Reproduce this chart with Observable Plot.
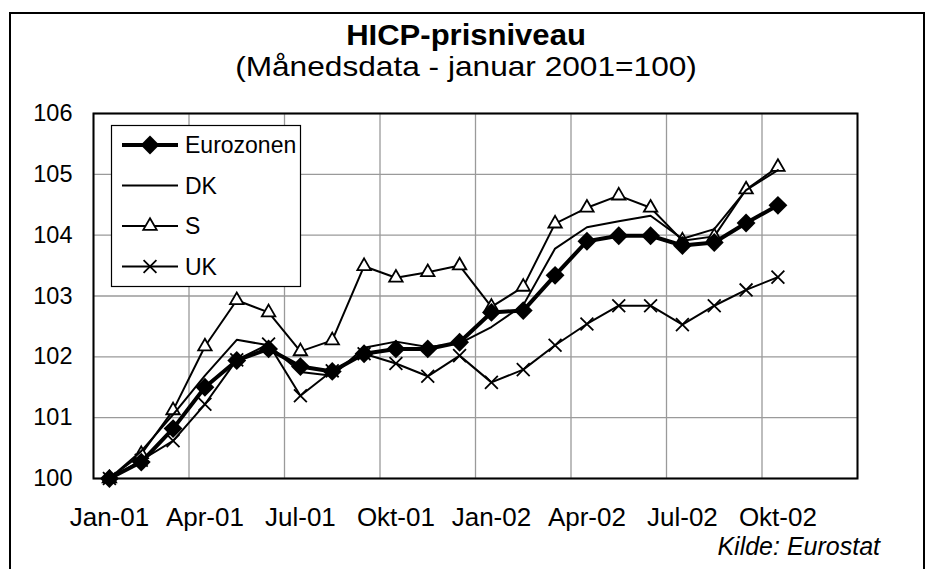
<!DOCTYPE html>
<html>
<head>
<meta charset="utf-8">
<script src="https://cdn.jsdelivr.net/npm/d3@7"></script>
<script src="https://cdn.jsdelivr.net/npm/@observablehq/plot@0.6"></script>
<style>
  html, body { margin: 0; padding: 0; background: #fff; overflow: hidden; width: 930px; height: 569px; }
  body { position: relative; font-family: "Liberation Sans", Arial, sans-serif; color: #000; }
  #border { position: absolute; left: 9px; top: 12px; width: 916px; height: 700px; box-sizing: border-box; border: 2px solid #000; border-bottom: none; }
  .t { position: absolute; left: 0; width: 932px; text-align: center; white-space: nowrap; line-height: 1; }
  #title { top: 21px; font-size: 29px; font-weight: bold; transform: scaleX(1.07); }
  #subtitle { top: 53px; font-size: 28px; transform: scaleX(1.13); }
  #chart { position: absolute; left: 0; top: 100px; }
  #legend { position: absolute; left: 111px; top: 125px; }
  #caption { position: absolute; right: 50px; top: 534px; font-size: 25px; font-style: italic; line-height: 1; white-space: nowrap; }
</style>
</head>
<body>
<div id="border"></div>
<div id="title" class="t">HICP-prisniveau</div>
<div id="subtitle" class="t">(Månedsdata - januar 2001=100)</div>
<div id="chart"></div>
<div id="legend"></div>
<div id="caption">Kilde: Eurostat</div>
<script>
// ---- data ----
const months = ["Jan-01","Feb-01","Mar-01","Apr-01","Maj-01","Jun-01","Jul-01","Aug-01","Sep-01","Okt-01","Nov-01","Dec-01",
                "Jan-02","Feb-02","Mar-02","Apr-02","Maj-02","Jun-02","Jul-02","Aug-02","Sep-02","Okt-02","Nov-02","Dec-02"];
const tickMonths = ["Jan-01","Apr-01","Jul-01","Okt-01","Jan-02","Apr-02","Jul-02","Okt-02"];
const yTicks = [100, 101, 102, 103, 104, 105, 106];
const seriesNames = ["Eurozonen", "DK", "S", "UK"];
const eurozonen = [100.00, 100.27, 100.82, 101.50, 101.94, 102.13, 101.84, 101.76, 102.05, 102.13, 102.13, 102.24,
                   102.73, 102.76, 103.34, 103.90, 103.99, 103.99, 103.83, 103.88, 104.20, 104.49];
const dk        = [100.00, 100.45, 101.05, 101.69, 102.28, 102.19, 101.75, 101.69, 102.15, 102.25, 102.16, 102.22,
                   102.49, 102.85, 103.78, 104.13, 104.23, 104.32, 103.94, 104.10, 104.74, 105.07];
const s         = [100.00, 100.40, 101.12, 102.17, 102.93, 102.73, 102.09, 102.27, 103.49, 103.30, 103.39, 103.50,
                   102.82, 103.15, 104.19, 104.45, 104.65, 104.45, 103.91, 103.98, 104.75, 105.12];
const uk        = [100.00, 100.30, 100.62, 101.22, 101.95, 102.21, 101.36, 101.77, 102.05, 101.89, 101.68, 102.02,
                   101.58, 101.79, 102.19, 102.54, 102.84, 102.84, 102.53, 102.84, 103.10, 103.31];

const toRows = arr => arr.map((v, i) => ({i, v, month: months[i]}));
const rowsEU = toRows(eurozonen), rowsDK = toRows(dk), rowsS = toRows(s), rowsUK = toRows(uk);
const tickIdx = tickMonths.map(m => months.indexOf(m));
const vGrid = tickIdx.map(i => i - 0.5).concat([months.length - 0.5]);

const chart = Plot.plot({
  width: 930,
  height: 469,
  marginLeft: 93,
  marginRight: 73,
  marginTop: 13,
  marginBottom: 91,
  style: { fontFamily: "'Liberation Sans', Arial, sans-serif", background: "transparent", overflow: "visible" },
  x: { domain: [-0.5, months.length - 0.5], label: null },
  y: { domain: [yTicks[0], yTicks[yTicks.length - 1]], label: null },
  marks: [
    Plot.ruleX(vGrid, { x: d => d, stroke: "#9a9a9a", strokeWidth: 1.3 }),
    Plot.ruleY(yTicks, { y: d => d, stroke: "#9a9a9a", strokeWidth: 1.3 }),
    Plot.axisY({ ticks: yTicks, tickSize: 0, tickPadding: 21, fontSize: 23.5, tickFormat: d => String(d), label: null }),
    Plot.axisX({ ticks: tickIdx, tickSize: 0, tickPadding: 29, fontSize: 26, tickFormat: i => months[i], label: null }),
    // UK
    Plot.line(rowsUK, { x: "i", y: "v", stroke: "#000", strokeWidth: 2 }),
    Plot.dot(rowsUK, { x: "i", y: "v", symbol: "times", r: 5.9, stroke: "#000", strokeWidth: 1.8 }),
    // S
    Plot.line(rowsS, { x: "i", y: "v", stroke: "#000", strokeWidth: 2 }),
    Plot.dot(rowsS, { x: "i", y: "v", symbol: "triangle", r: 5, fill: "#fff", stroke: "#000", strokeWidth: 1.8 }),
    // DK
    Plot.line(rowsDK, { x: "i", y: "v", stroke: "#000", strokeWidth: 2 }),
    // Eurozonen
    Plot.line(rowsEU, { x: "i", y: "v", stroke: "#000", strokeWidth: 4 }),
    Plot.dot(rowsEU, { x: "i", y: "v", symbol: "diamond2", r: 8.5, fill: "#000", stroke: "none" }),
    Plot.frame({ stroke: "#000", strokeWidth: 2 })
  ]
});
document.getElementById("chart").appendChild(chart);

// ---- legend (inside the plot area, like the reference) ----
const lw = 189, lh = 161;
const lg = d3.select("#legend").append("svg").attr("width", lw + 2).attr("height", lh + 2)
  .style("overflow", "visible");
lg.append("rect").attr("x", 0.5).attr("y", 0.5).attr("width", lw).attr("height", lh)
  .attr("fill", "#fff").attr("stroke", "#000").attr("stroke-width", 1.2);
const legendStyle = {
  "Eurozonen": { sw: 4, sym: d3.symbolDiamond2, size: Math.PI * 8.5 * 8.5, fill: "#000", stroke: "none" },
  "DK": { sw: 2, sym: null },
  "S": { sw: 2, sym: d3.symbolTriangle, size: Math.PI * 25, fill: "#fff", stroke: "#000" },
  "UK": { sw: 2, sym: d3.symbolTimes, size: Math.PI * 5.9 * 5.9, fill: "none", stroke: "#000" }
};
seriesNames.forEach((name, k) => {
  const cy = 20 + k * 40.5;
  const st = legendStyle[name];
  const g = lg.append("g");
  g.append("line").attr("x1", 11).attr("x2", 67).attr("y1", cy).attr("y2", cy)
    .attr("stroke", "#000").attr("stroke-width", st.sw);
  if (st.sym) {
    g.append("path").attr("d", d3.symbol(st.sym, st.size)()).attr("transform", `translate(39,${cy})`)
      .attr("fill", st.fill).attr("stroke", st.stroke).attr("stroke-width", 1.8);
  }
  g.append("text").attr("x", 74).attr("y", cy).attr("dy", "0.36em")
    .attr("font-family", "'Liberation Sans', Arial, sans-serif").attr("font-size", 23).text(name);
});
</script>
</body>
</html>
